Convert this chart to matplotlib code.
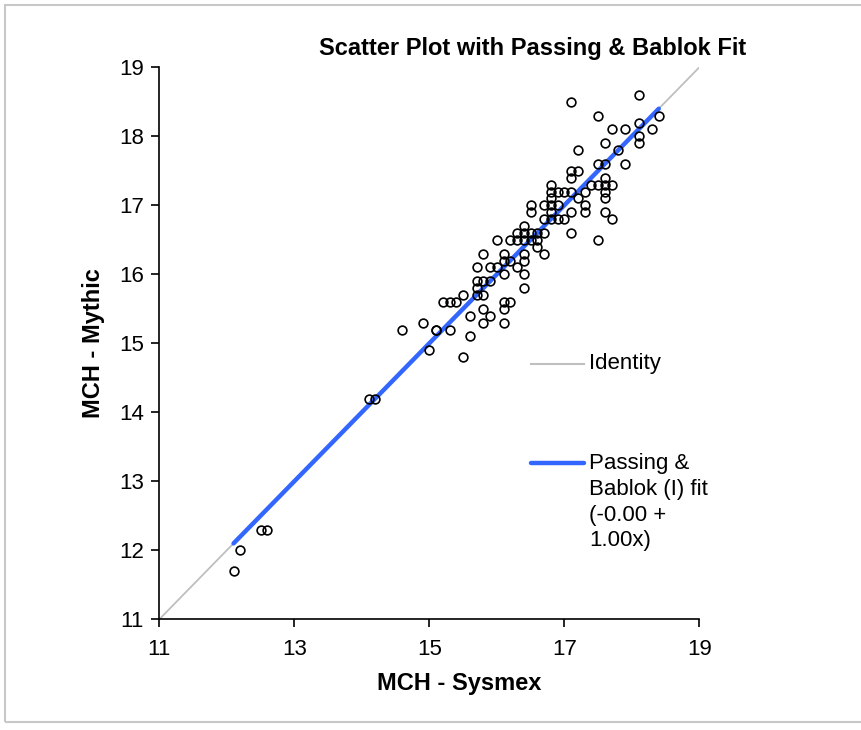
import matplotlib
matplotlib.use("Agg")
from matplotlib import pyplot as plt
from matplotlib.lines import Line2D
from matplotlib.patches import Rectangle

plt.rcParams['font.family'] = ['Liberation Sans', 'DejaVu Sans']

sysmex = [12.1, 12.2, 12.5, 12.6,
          14.1, 14.2,
          14.6, 14.9, 15.0, 15.1, 15.1, 15.3,
          15.2, 15.3, 15.4, 15.5, 15.5,
          15.6, 15.6,
          15.7, 15.7, 15.7, 15.7,
          15.8, 15.8, 15.8, 15.8, 15.8,
          15.9, 15.9, 15.9,
          16.0, 16.0,
          16.1, 16.1, 16.1, 16.1, 16.1, 16.1,
          16.2, 16.2, 16.2,
          16.3, 16.3, 16.3,
          16.4, 16.4, 16.4, 16.4, 16.4, 16.4, 16.4,
          16.5, 16.5, 16.5, 16.5,
          16.6, 16.6, 16.6,
          16.7, 16.7, 16.7, 16.7,
          16.8, 16.8, 16.8, 16.8, 16.8, 16.8,
          16.9, 16.9, 16.9,
          17.0, 17.0,
          17.1, 17.1, 17.1, 17.1, 17.1, 17.1,
          17.2, 17.2, 17.2,
          17.3, 17.3, 17.3,
          17.4,
          17.5, 17.5, 17.5, 17.5,
          17.6, 17.6, 17.6, 17.6, 17.6, 17.6, 17.6,
          17.7, 17.7, 17.7,
          17.8,
          17.9, 17.9,
          18.1, 18.1, 18.1, 18.1,
          18.3,
          18.4]
mythic = [11.7, 12.0, 12.3, 12.3,
          14.2, 14.2,
          15.2, 15.3, 14.9, 15.2, 15.2, 15.2,
          15.6, 15.6, 15.6, 15.7, 14.8,
          15.4, 15.1,
          15.9, 15.8, 15.7, 16.1,
          16.3, 15.9, 15.7, 15.5, 15.3,
          16.1, 15.9, 15.4,
          16.5, 16.1,
          16.3, 16.2, 16.0, 15.6, 15.5, 15.3,
          16.5, 16.2, 15.6,
          16.6, 16.5, 16.1,
          16.7, 16.6, 16.5, 16.3, 16.2, 16.0, 15.8,
          17.0, 16.9, 16.6, 16.5,
          16.6, 16.5, 16.4,
          17.0, 16.8, 16.6, 16.3,
          17.3, 17.2, 17.1, 17.0, 16.9, 16.8,
          17.2, 17.0, 16.8,
          17.2, 16.8,
          18.5, 17.5, 17.4, 17.2, 16.9, 16.6,
          17.8, 17.5, 17.1,
          17.2, 17.0, 16.9,
          17.3,
          18.3, 17.6, 17.3, 16.5,
          17.9, 17.6, 17.4, 17.3, 17.2, 17.1, 16.9,
          18.1, 17.3, 16.8,
          17.8,
          18.1, 17.6,
          18.6, 18.2, 18.0, 17.9,
          18.1,
          18.3]

# Passing & Bablok fit
intercept = -0.00
slope = 1.00
fit_x = [min(sysmex), max(sysmex)]
fit_y = [intercept + slope * v for v in fit_x]
identity = [11, 19]

W, H = 862, 730
fig = plt.figure(figsize=(W / 100, H / 100), dpi=100)
fig.patch.set_facecolor('white')
fig.add_artist(Rectangle((5 / W, 8 / H), 1.0, 1 - 13 / H, transform=fig.transFigure,
                         fill=False, edgecolor='#c8c8c8', linewidth=1.5))

ax = fig.add_axes([159.3 / W, 1 - 619.3 / H, 540 / W, 552 / H])
ax.plot(identity, identity, color='#bfbfbf', linewidth=1.3, zorder=1)
ax.plot(fit_x, fit_y, color='#3366ff', linewidth=3.2, solid_capstyle='round', zorder=2)
ax.plot(sysmex, mythic, linestyle='none', marker='o', markersize=6.3,
        markerfacecolor='none', markeredgecolor='black', markeredgewidth=1.2, zorder=3)

ax.set_xlim(11, 19)
ax.set_ylim(11, 19)
ax.set_xticks([11, 13, 15, 17, 19])
ax.set_yticks(range(11, 20))
ax.tick_params(direction='out', length=6, width=1.2, labelsize=16, pad=5)
ax.tick_params(axis='x', pad=8)
for s in ['top', 'right']:
    ax.spines[s].set_visible(False)
for s in ['left', 'bottom']:
    ax.spines[s].set_linewidth(1.2)

ax.set_xlabel('MCH - Sysmex', fontsize=17, fontweight='bold', labelpad=9)
ax.xaxis.label.set_x(0.555)
ax.set_ylabel('MCH - Mythic', fontsize=17, fontweight='bold', labelpad=10)
fig.text(533 / W, 1 - 48 / H, 'Scatter Plot with Passing & Bablok Fit',
         ha='center', va='center', fontsize=17, fontweight='bold')

# legend, drawn by hand like the spreadsheet one
fig.add_artist(Line2D([531 / W, 584 / W], [1 - 364 / H, 1 - 364 / H],
                      color='#bfbfbf', linewidth=1.5, transform=fig.transFigure))
fig.text(589 / W, 1 - 364 / H, 'Identity', ha='left', va='center', fontsize=16)
fig.add_artist(Line2D([531 / W, 584 / W], [1 - 463 / H, 1 - 463 / H],
                      color='#3366ff', linewidth=3.2, solid_capstyle='round',
                      transform=fig.transFigure))
fig.text(589 / W, 1 - 453 / H, 'Passing &\nBablok (I) fit\n(-%.2f +\n%.2fx)' % (abs(intercept), slope),
         ha='left', va='top', fontsize=16, linespacing=1.3)

fig.savefig('out.png', dpi=100)
